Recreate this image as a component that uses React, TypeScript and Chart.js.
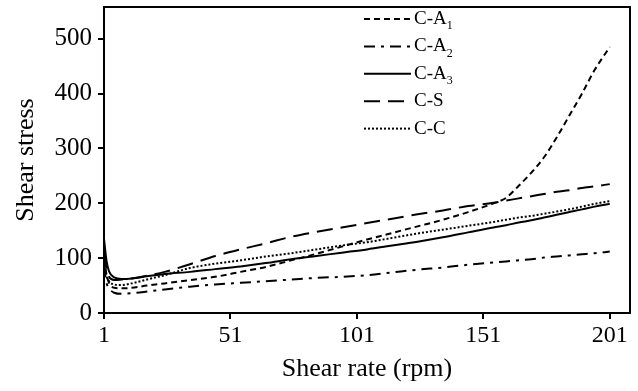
import React, { useEffect, useRef } from 'react';
import { Chart, registerables } from 'chart.js';

Chart.register(...registerables);

const xValues = [1, 2, 3, 5, 8, 12, 18, 25, 35, 45, 55, 65, 75, 85, 95, 105, 115, 125, 135, 145, 155, 160, 165, 170, 175, 180, 185, 190, 195, 201];

const seriesCA1 = [100, 70, 55, 46, 45, 46, 50, 54, 60, 66, 75, 84, 96, 108, 121, 134, 146, 158, 170, 184, 200, 210, 232, 256, 284, 320, 360, 400, 443, 485];
const seriesCA2 = [85, 55, 45, 37, 35, 36, 39, 43, 48, 52, 55, 58, 61, 64, 66, 69, 74, 79, 83, 88, 92, 94, 96, 98, 101, 103, 105, 107, 109, 112];
const seriesCA3 = [135, 95, 76, 65, 62, 63, 67, 71, 75, 80, 85, 91, 98, 104, 110, 116, 123, 130, 138, 147, 156, 160, 165, 169, 174, 179, 184, 189, 194, 199];
const seriesCS = [110, 80, 66, 60, 61, 63, 68, 75, 89, 104, 116, 127, 139, 148, 156, 164, 172, 180, 187, 195, 201, 205, 209, 213, 217, 221, 224, 228, 231, 235];
const seriesCC = [95, 68, 58, 52, 51, 54, 61, 69, 82, 90, 96, 103, 109, 116, 123, 129, 137, 145, 152, 159, 166, 170, 174, 177, 181, 185, 189, 194, 199, 204];

const legendNames = ['C-A', 'C-A', 'C-A', 'C-S', 'C-C'];
const legendSubs = ['1', '2', '3', '', ''];

const xTickValues = [1, 51, 101, 151, 201];
const yTickValues = [0, 100, 200, 300, 400, 500];

const FONT = '"Liberation Serif", "Times New Roman", serif';

const dashes: number[][] = [
  [6, 4],
  [11, 6, 3, 6],
  [],
  [16, 8],
  [2, 2],
];

const framePlugin = {
  id: 'frame',
  afterDraw(chart: any) {
    const { ctx, chartArea } = chart;
    ctx.save();
    ctx.strokeStyle = '#000';
    ctx.lineWidth = 2;
    ctx.setLineDash([]);
    ctx.strokeRect(chartArea.left, chartArea.top, chartArea.right - chartArea.left, chartArea.bottom - chartArea.top);
    ctx.restore();
  },
};

const legendPlugin = {
  id: 'customLegend',
  afterDraw(chart: any) {
    const ctx = chart.ctx;
    ctx.save();
    const x0 = 364;
    const x1 = 411;
    const tx = 414;
    const y0 = 19;
    const dy = 27.4;
    legendNames.forEach((name, i) => {
      const y = y0 + i * dy;
      ctx.strokeStyle = '#000';
      ctx.lineWidth = 2;
      ctx.setLineDash(dashes[i]);
      ctx.beginPath();
      ctx.moveTo(x0, y);
      ctx.lineTo(x1, y);
      ctx.stroke();
      ctx.setLineDash([]);
      ctx.fillStyle = '#000';
      ctx.textBaseline = 'middle';
      ctx.textAlign = 'left';
      ctx.font = `19px ${FONT}`;
      ctx.fillText(name, tx, y);
      const w = ctx.measureText(name).width;
      if (legendSubs[i]) {
        ctx.font = `12px ${FONT}`;
        ctx.fillText(legendSubs[i], tx + w, y + 7);
      }
    });
    ctx.restore();
  },
};

export default function App() {
  const canvasRef = useRef<HTMLCanvasElement | null>(null);

  useEffect(() => {
    document.body.style.margin = '0';
    const canvas = canvasRef.current;
    if (!canvas) return;
    const allSeries = [seriesCA1, seriesCA2, seriesCA3, seriesCS, seriesCC];
    const labels = ['C-A1', 'C-A2', 'C-A3', 'C-S', 'C-C'];
    const chart = new Chart(canvas, {
      type: 'line',
      data: {
        datasets: allSeries.map((s, i) => ({
          label: labels[i],
          data: xValues.map((x, j) => ({ x, y: s[j] })),
          borderColor: '#000',
          borderWidth: 2,
          borderDash: dashes[i],
          pointRadius: 0,
          fill: false,
          cubicInterpolationMode: 'monotone' as const,
        })),
      },
      options: {
        animation: false,
        responsive: false,
        devicePixelRatio: 1,
        layout: { padding: { top: 7, right: 8, left: 0, bottom: 0 } },
        plugins: {
          legend: { display: false },
          tooltip: { enabled: false },
        },
        scales: {
          x: {
            type: 'linear',
            min: 1,
            max: 209,
            afterBuildTicks: (s: any) => {
              s.ticks = xTickValues.map((v) => ({ value: v }));
            },
            afterFit: (s: any) => {
              s.height = 78;
              s.paddingLeft = 0;
              s.paddingRight = 0;
            },
            grid: { drawOnChartArea: false, drawTicks: true, tickLength: 6, color: '#000', lineWidth: 2 },
            border: { display: false },
            ticks: {
              color: '#000',
              font: { family: FONT, size: 24 },
              padding: 2,
              maxRotation: 0,
              autoSkip: false,
            },
            title: {
              display: true,
              text: 'Shear rate (rpm)',
              color: '#000',
              font: { family: FONT, size: 26 },
              padding: { top: 0, bottom: 6 },
            },
          },
          y: {
            type: 'linear',
            min: 0,
            max: 558,
            afterBuildTicks: (s: any) => {
              s.ticks = yTickValues.map((v) => ({ value: v }));
            },
            afterFit: (s: any) => {
              s.width = 104;
              s.paddingTop = 0;
              s.paddingBottom = 0;
            },
            grid: { drawOnChartArea: false, drawTicks: true, tickLength: 6, color: '#000', lineWidth: 2 },
            border: { display: false },
            ticks: {
              color: '#000',
              font: { family: FONT, size: 25 },
              padding: 6,
            },
            title: {
              display: true,
              text: 'Shear stress',
              color: '#000',
              font: { family: FONT, size: 26 },
              padding: { top: 11, bottom: 0 },
            },
          },
        },
      },
      plugins: [framePlugin, legendPlugin],
    });
    return () => chart.destroy();
  }, []);

  return (
    <div style={{ width: 638, height: 391 }}>
      <canvas ref={canvasRef} width={638} height={391} style={{ display: 'block', width: 638, height: 391 }} />
    </div>
  );
}
